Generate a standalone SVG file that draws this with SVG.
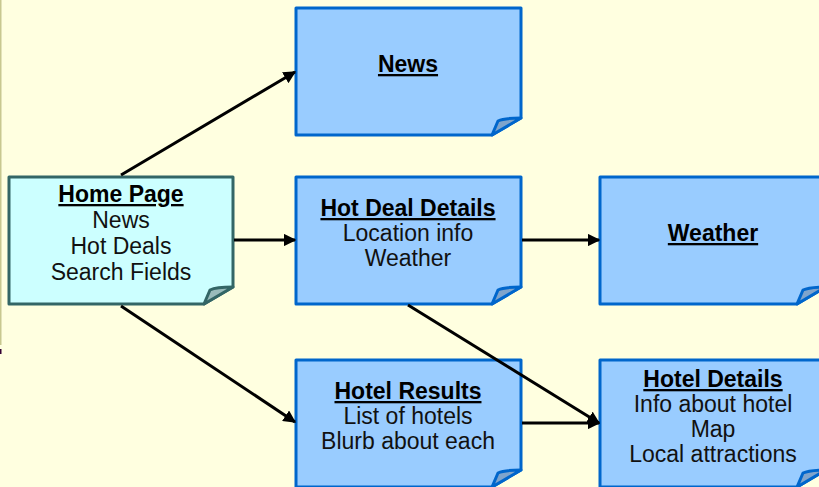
<svg xmlns="http://www.w3.org/2000/svg" width="819" height="487" viewBox="0 0 819 487">
  <defs>
    <marker id="arrow" viewBox="0 0 10 10" refX="9" refY="5" markerWidth="4.2" markerHeight="4.2" orient="auto" markerUnits="strokeWidth">
      <path d="M0,0 L10,5 L0,10 Z" fill="#000"/>
    </marker>
  </defs>
  <style>
    .page { fill: #99CCFF; stroke: #0066CC; stroke-width: 3; stroke-linejoin: round; }
    .flap { fill: #7FA4CC; stroke: #0066CC; stroke-width: 3; stroke-linejoin: round; }
    .home { fill: #CCFFFF; stroke: #336666; stroke-width: 3; stroke-linejoin: round; }
    .homeflap { fill: #99BBBB; stroke: #336666; stroke-width: 3; stroke-linejoin: round; }
    .title { font-family: "Liberation Sans", Arial, sans-serif; font-size: 23px; font-weight: bold; fill: #000; text-anchor: middle; text-decoration: underline; }
    .body { font-family: "Liberation Sans", Arial, sans-serif; font-size: 23px; fill: #111; text-anchor: middle; }
    .link { stroke: #000; stroke-width: 3; fill: none; marker-end: url(#arrow); }
  </style>

  <rect width="819" height="487" fill="#FFFFE0"/>
  <line x1="0.75" y1="0" x2="0.75" y2="345" stroke="#C8C890" stroke-width="1.5"/>
  <rect x="0" y="349" width="1.5" height="5" fill="#330033"/>

  <g id="home">
    <path class="home" d="M9,177 H233 V287 L204,304 H9 Z"/>
    <path class="homeflap" d="M204,304 L210,290 Q216,287 233,287 Z"/>
    <text class="title" x="121" y="202">Home Page</text>
    <text class="body" x="121" y="228">News</text>
    <text class="body" x="121" y="254">Hot Deals</text>
    <text class="body" x="121" y="280">Search Fields</text>
  </g>

  <g id="news">
    <path class="page" d="M296,8 H521 V118 L492,135 H296 Z"/>
    <path class="flap" d="M492,135 L498,121 Q504,118 521,118 Z"/>
    <text class="title" x="408" y="72">News</text>
  </g>

  <g id="hot-deal-details">
    <path class="page" d="M296,177 H521 V287 L492,304 H296 Z"/>
    <path class="flap" d="M492,304 L498,290 Q504,287 521,287 Z"/>
    <text class="title" x="408" y="216">Hot Deal Details</text>
    <text class="body" x="408" y="241">Location info</text>
    <text class="body" x="408" y="266">Weather</text>
  </g>

  <g id="weather">
    <path class="page" d="M600,177 H826 V287 L797,304 H600 Z"/>
    <path class="flap" d="M797,304 L803,290 Q809,287 826,287 Z"/>
    <text class="title" x="713" y="241">Weather</text>
  </g>

  <g id="hotel-results">
    <path class="page" d="M296,360 H521 V470 L492,487 H296 Z"/>
    <path class="flap" d="M492,487 L498,473 Q504,470 521,470 Z"/>
    <text class="title" x="408" y="399">Hotel Results</text>
    <text class="body" x="408" y="424">List of hotels</text>
    <text class="body" x="408" y="449">Blurb about each</text>
  </g>

  <g id="hotel-details">
    <path class="page" d="M600,360 H826 V470 L797,487 H600 Z"/>
    <path class="flap" d="M797,487 L803,473 Q809,470 826,470 Z"/>
    <text class="title" x="713" y="387">Hotel Details</text>
    <text class="body" x="713" y="412">Info about hotel</text>
    <text class="body" x="713" y="437">Map</text>
    <text class="body" x="713" y="462">Local attractions</text>
  </g>

  <!-- links are drawn last so they sit on top of the pages they cross -->
  <g id="connectors">
    <line class="link" x1="121" y1="175" x2="295" y2="72"/>
    <line class="link" x1="234" y1="240" x2="295" y2="240"/>
    <line class="link" x1="121" y1="306" x2="295" y2="422"/>
    <line class="link" x1="522" y1="240" x2="599" y2="240"/>
    <line class="link" x1="408" y1="305" x2="599" y2="423"/>
    <line class="link" x1="522" y1="423" x2="599" y2="423"/>
  </g>
</svg>
